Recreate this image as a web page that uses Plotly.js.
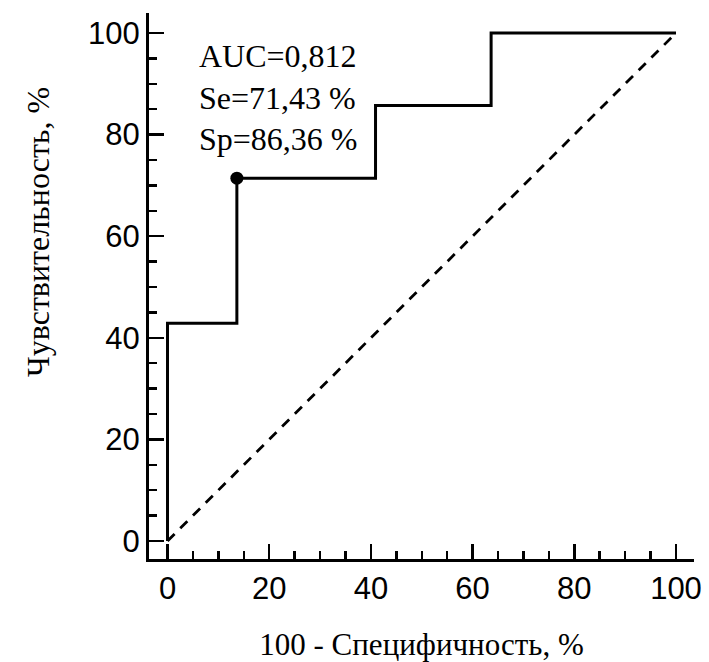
<!DOCTYPE html>
<html>
<head>
<meta charset="utf-8">
<script src="https://cdn.plot.ly/plotly-3.0.1.min.js"></script>
<style>html,body{margin:0;padding:0;background:#fff;}#chart{width:709px;height:662px;}</style>
</head>
<body>
<div id="chart"></div>
<script>
// ROC curve (x = 100 - specificity, y = sensitivity), in %
const rocX = [0, 0, 13.64, 13.64, 40.91, 40.91, 63.64, 63.64, 100];
const rocY = [0, 42.86, 42.86, 71.43, 71.43, 85.71, 85.71, 100, 100];
// reference (chance) line
const refX = [0, 100];
const refY = [0, 100];
// optimal cut-off point
const cutX = [13.64];
const cutY = [71.43];
// texts
const statLines = ["AUC=0,812", "Se=71,43 %", "Sp=86,36 %"];
const xTitle = "100 - Специфичность, %";
const yTitle = "Чувствительность, %";
const tickVals = [0, 20, 40, 60, 80, 100];

const SERIF = "'Liberation Serif', 'Times New Roman', serif";
const SANS = "'Liberation Sans', Arial, sans-serif";

const traces = [
  {x: refX, y: refY, mode: 'lines', line: {color: '#000', width: 2.8, dash: '10px,8px'}, hoverinfo: 'skip'},
  {x: rocX, y: rocY, mode: 'lines', line: {color: '#000', width: 3}, hoverinfo: 'skip'},
  {x: cutX, y: cutY, mode: 'markers', marker: {color: '#000', size: 13}, hoverinfo: 'skip'}
];

const axisCommon = {
  showline: true, linecolor: '#000', linewidth: 3,
  showgrid: false, zeroline: false,
  ticks: 'inside', ticklen: 15, tickwidth: 2.5, tickcolor: '#000',
  tickvals: tickVals,
  tickfont: {family: SANS, size: 31, color: '#000'},
  minor: {dtick: 5, tick0: 0, ticks: 'inside', ticklen: 8, tickwidth: 2.5, tickcolor: '#000', showgrid: false},
  fixedrange: true
};

const layout = {
  width: 709, height: 662,
  margin: {l: 149, r: 15, t: 13, b: 103, pad: 0},
  paper_bgcolor: '#fff', plot_bgcolor: '#fff',
  font: {family: SERIF, size: 32, color: '#000'},
  showlegend: false,
  xaxis: Object.assign({}, axisCommon, {
    range: [-3.64, 103.54],
    title: {text: xTitle, font: {family: SERIF, size: 31, color: '#000'}, standoff: 31}
  }),
  yaxis: Object.assign({}, axisCommon, {
    range: [-3.54, 103.94]
  }),
  annotations: [
    {
      x: 5.8, y: 99.5, xref: 'x', yref: 'y', xanchor: 'left', yanchor: 'top', align: 'left',
      showarrow: false, text: statLines.join('<br>'),
      font: {family: SERIF, size: 32, color: '#000'}
    },
    {
      x: -0.2035, y: 0.599, xref: 'paper', yref: 'paper', xanchor: 'center', yanchor: 'middle',
      textangle: -90, showarrow: false, text: yTitle,
      font: {family: SERIF, size: 32, color: '#000'}
    }
  ]
};

Plotly.newPlot('chart', traces, layout, {displayModeBar: false, staticPlot: true});
</script>
</body>
</html>
